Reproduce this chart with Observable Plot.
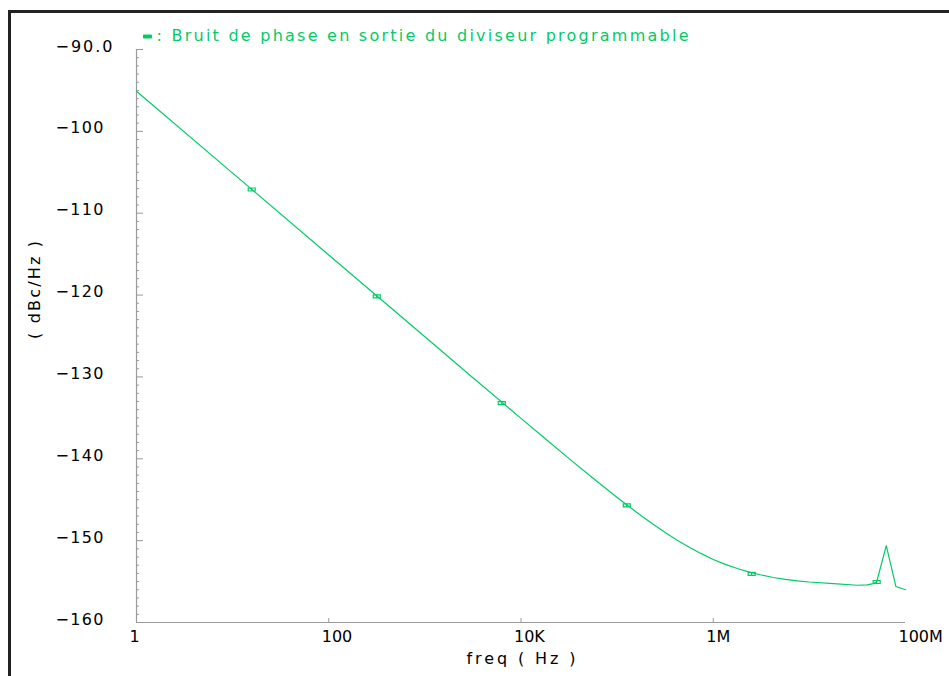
<!DOCTYPE html>
<html><head><meta charset="utf-8">
<script src="https://cdn.jsdelivr.net/npm/d3@7"></script>
<script src="https://cdn.jsdelivr.net/npm/@observablehq/plot@0.6"></script>
<style>
html,body{margin:0;padding:0;background:#fff;}
#wrap{position:relative;width:949px;height:676px;overflow:hidden;}
#frame{position:absolute;left:8px;top:10px;width:980px;height:720px;border-top:3px solid #222;border-left:3px solid #222;pointer-events:none;}
</style></head><body>
<div id="wrap"><div id="chart"></div><div id="frame"></div></div>
<script>
// Phase noise at the programmable divider output (dBc/Hz) vs frequency (Hz)
const freq  = [1, 10, 100, 1000, 3162, 10000, 17783, 31623, 56234, 100000, 177828, 237137, 316228, 421697, 562341, 750000,
               1e6, 1.334e6, 1.778e6, 2.371e6, 3.162e6, 4.217e6, 5.623e6, 7.499e6, 1e7, 1.778e7, 3.162e7, 3.98e7, 4.64e7, 5.01e7, 6.31e7, 7.94e7, 1e8];
const noise = [-95.1, -105.1, -115.1, -125.1, -130.1, -135.06, -137.53, -139.98, -142.38, -144.72, -146.95, -148.0, -149.0, -149.94, -150.8, -151.59,
               -152.3, -152.9, -153.4, -153.85, -154.2, -154.5, -154.73, -154.91, -155.05, -155.25, -155.45, -155.4, -155.25, -155.05, -150.6, -155.6, -156.0];
const markerFreq  = [15.8, 316, 6310, 1.26e5, 2.51e6, 5.01e7];
const markerNoise = [-107.1, -120.15, -133.2, -145.7, -154.05, -155.05];

const yTicks = [-90, -100, -110, -120, -130, -140, -150, -160];
const yTickLabels = ["\u221290.0", "\u2212100", "\u2212110", "\u2212120", "\u2212130", "\u2212140", "\u2212150", "\u2212160"];
const yMinorTicks = d3.range(-159, -90).filter(v => v % 10 !== 0);
const xTicks = [1, 100, 1e4, 1e6, 1e8];
const xTickLabels = ["1", "100", "10K", "1M", "100M"];
const xInnerTicks = [100, 1e4, 1e6];
const legendText = ": Bruit de phase en sortie du diviseur programmable";
const yTitle = "( dBc/Hz )";
const xTitle = "freq ( Hz )";

const green = "#00cc66";
const gray = "#9a9a9a";
const font = "'DejaVu Sans', sans-serif";

const markSymbol = {draw(ctx) { ctx.rect(-3.5, -1.5, 7, 3); ctx.moveTo(0, -1.5); ctx.lineTo(0, 1.5); }};
const legendSymbol = {draw(ctx) { ctx.rect(-4, -1.5, 8, 3); }};

const data = freq.map((f, i) => ({f, v: noise[i]}));
const markers = markerFreq.map((f, i) => ({f, v: markerNoise[i]}));

const chart = Plot.plot({
  width: 949, height: 676,
  marginLeft: 136, marginRight: 44, marginTop: 49, marginBottom: 54,
  style: {fontFamily: font, fontSize: "16px", color: "#000", background: "#fff", overflow: "visible"},
  x: {type: "log", domain: [1, 1e8], label: null},
  y: {domain: [-160, -90], label: null},
  marks: [
    Plot.ruleX([1], {stroke: gray, strokeWidth: 1.2}),
    Plot.ruleY([-160], {stroke: gray, strokeWidth: 1.2}),
    Plot.axisY(yMinorTicks, {tickSize: -3, tickFormat: () => "", stroke: gray, label: null}),
    Plot.axisY(yTicks, {tickSize: -7, tickFormat: () => "", stroke: gray, label: null}),
    Plot.axisY(yTicks, {tickSize: 0, tickPadding: 0, textAnchor: "start", dx: -81, dy: -3,
      tickFormat: d => yTickLabels[yTicks.indexOf(d)], fill: "#000", label: null}),
    Plot.axisX(xInnerTicks, {tickSize: -4, tickFormat: () => "", stroke: gray, label: null}),
    Plot.axisX(xTicks, {tickSize: 0, tickPadding: 8, textAnchor: "start", dx: -7,
      tickFormat: d => xTickLabels[xTicks.indexOf(d)], fill: "#000", label: null}),
    Plot.line(data, {x: "f", y: "v", stroke: green, strokeWidth: 1.2}),
    Plot.dot(markers, {x: "f", y: "v", symbol: markSymbol, stroke: green, fill: "none", strokeWidth: 1.2}),
    Plot.dot([0], {frameAnchor: "top-left", dx: 11, dy: -13, symbol: legendSymbol, fill: green, stroke: green, strokeWidth: 1}),
    Plot.text([legendText], {text: d => d, frameAnchor: "top-left", lineAnchor: "middle", textAnchor: "start", dx: 20, dy: -14, fill: green, fontSize: 16}),
    Plot.text([yTitle], {text: d => d, frameAnchor: "left", lineAnchor: "middle", rotate: -90, dx: -102, dy: 3, fill: "#000", fontSize: 16}),
    Plot.text([xTitle], {text: d => d, frameAnchor: "bottom", lineAnchor: "middle", dy: 36, fill: "#000", fontSize: 16})
  ]
});

const targets = new Map([[legendText, 532], [yTitle, 98], [xTitle, 109], ["\u221290.0", 57]]);
for (const l of yTickLabels.slice(1)) targets.set(l, 48);
for (const t of chart.querySelectorAll("text")) {
  const L = targets.get(t.textContent);
  if (L) { t.setAttribute("textLength", L); t.setAttribute("lengthAdjust", "spacing"); }
}
document.getElementById("chart").appendChild(chart);
</script>
</body></html>
